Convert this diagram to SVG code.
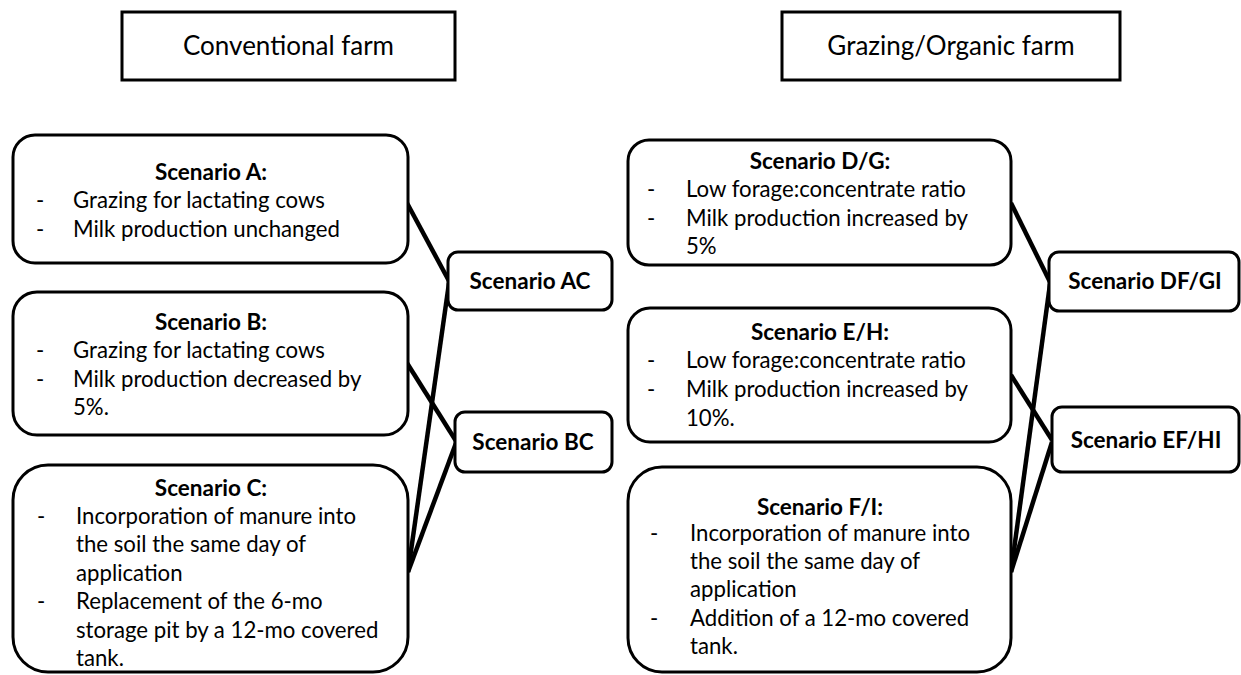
<svg xmlns="http://www.w3.org/2000/svg" width="1241" height="675" viewBox="0 0 1241 675">
<style>
.box{fill:#fff;stroke:#000;stroke-width:3}
.hdr{fill:#fff;stroke:#000;stroke-width:3}
text{font-family:Lato,"Liberation Sans",sans-serif;fill:#000}
.h{font-size:26px;text-anchor:middle}
.t{font-size:22.5px;font-weight:bold;text-anchor:middle}
.b{font-size:22.2px}
.s{font-size:22.5px;font-weight:bold;text-anchor:middle}
.con line{stroke:#000;stroke-width:4.5;stroke-linecap:butt}
</style>
<rect width="1241" height="675" fill="#fff"/>
<g id="hdr-conventional">
<rect class="hdr" x="122" y="12" width="333" height="68"/>
<text class="h" x="288.5" y="55">Conventional farm</text>
</g>
<g id="hdr-grazing">
<rect class="hdr" x="782" y="12" width="338" height="68"/>
<text class="h" x="951" y="55">Grazing/Organic farm</text>
</g>
<g class="con" id="connectors">
<line x1="407" y1="203" x2="449" y2="281"/>
<line x1="407" y1="363" x2="456" y2="441"/>
<line x1="408" y1="572" x2="449" y2="283"/>
<line x1="408" y1="572" x2="456" y2="443"/>
<line x1="1011" y1="203" x2="1050" y2="282"/>
<line x1="1011" y1="375" x2="1052" y2="440"/>
<line x1="1011" y1="572" x2="1050" y2="284"/>
<line x1="1011" y1="572" x2="1052" y2="442"/>
</g>
<g id="scenario-a">
<rect class="box" x="13" y="135" width="395" height="128" rx="22"/>
<text class="t" x="211" y="180">Scenario A:</text>
<text class="b" x="36" y="208">-</text><text class="b" x="73" y="208">Grazing for lactating cows</text>
<text class="b" x="36" y="237">-</text><text class="b" x="73" y="237">Milk production unchanged</text>
</g>
<g id="scenario-b">
<rect class="box" x="13" y="292" width="395" height="143" rx="24"/>
<text class="t" x="211" y="330">Scenario B:</text>
<text class="b" x="36" y="358">-</text><text class="b" x="73" y="358">Grazing for lactating cows</text>
<text class="b" x="36" y="387">-</text><text class="b" x="73" y="387">Milk production decreased by</text>
<text class="b" x="73" y="415">5%.</text>
</g>
<g id="scenario-c">
<rect class="box" x="13" y="465" width="395" height="207" rx="35"/>
<text class="t" x="211" y="496">Scenario C:</text>
<text class="b" x="37" y="524">-</text><text class="b" x="76" y="524">Incorporation of manure into</text>
<text class="b" x="76" y="552">the soil the same day of</text>
<text class="b" x="76" y="581">application</text>
<text class="b" x="37" y="609">-</text><text class="b" x="76" y="609">Replacement of the 6-mo</text>
<text class="b" x="76" y="638">storage pit by a 12-mo covered</text>
<text class="b" x="76" y="666">tank.</text>
</g>
<g id="scenario-ac">
<rect class="box" x="448" y="252" width="164" height="58" rx="10"/>
<text class="s" x="530" y="289">Scenario AC</text>
</g>
<g id="scenario-bc">
<rect class="box" x="455" y="412" width="157" height="60" rx="10"/>
<text class="s" x="533" y="450">Scenario BC</text>
</g>
<g id="scenario-dg">
<rect class="box" x="628" y="140" width="383" height="125" rx="21"/>
<text class="t" x="820" y="169">Scenario D/G:</text>
<text class="b" x="647" y="197">-</text><text class="b" x="686" y="197">Low forage:concentrate ratio</text>
<text class="b" x="647" y="226">-</text><text class="b" x="686" y="226">Milk production increased by</text>
<text class="b" x="686" y="254">5%</text>
</g>
<g id="scenario-eh">
<rect class="box" x="628" y="308" width="383" height="134" rx="22"/>
<text class="t" x="820" y="340">Scenario E/H:</text>
<text class="b" x="647" y="368">-</text><text class="b" x="686" y="368">Low forage:concentrate ratio</text>
<text class="b" x="647" y="397">-</text><text class="b" x="686" y="397">Milk production increased by</text>
<text class="b" x="686" y="426">10%.</text>
</g>
<g id="scenario-fi">
<rect class="box" x="628" y="467" width="383" height="205" rx="34"/>
<text class="t" x="820" y="515">Scenario F/I:</text>
<text class="b" x="650" y="541">-</text><text class="b" x="690" y="541">Incorporation of manure into</text>
<text class="b" x="690" y="569">the soil the same day of</text>
<text class="b" x="690" y="597">application</text>
<text class="b" x="650" y="626">-</text><text class="b" x="690" y="626">Addition of a 12-mo covered</text>
<text class="b" x="690" y="654">tank.</text>
</g>
<g id="scenario-dfgi">
<rect class="box" x="1049" y="252" width="190" height="59" rx="10"/>
<text class="s" x="1145" y="289">Scenario DF/GI</text>
</g>
<g id="scenario-efhi">
<rect class="box" x="1052" y="407" width="187" height="65" rx="10"/>
<text class="s" x="1146" y="448">Scenario EF/HI</text>
</g>
</svg>
